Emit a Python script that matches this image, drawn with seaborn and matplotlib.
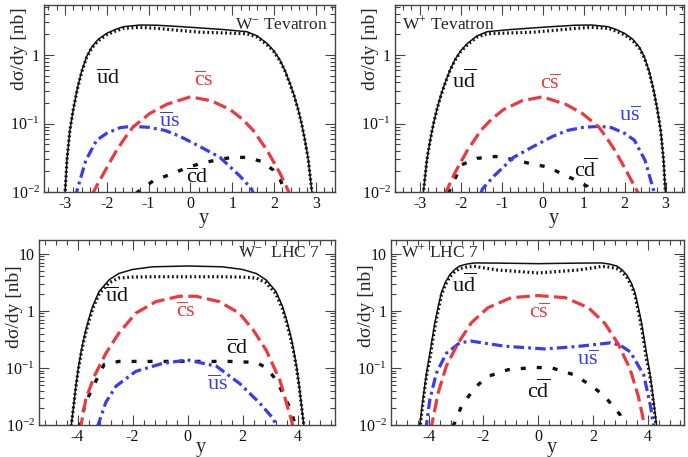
import numpy as np
import pandas as pd
import matplotlib
matplotlib.use("Agg")
import matplotlib.pyplot as plt
from matplotlib.ticker import LogLocator, FuncFormatter, MultipleLocator, NullFormatter
import seaborn as sns

sns.set_theme(style="ticks")
plt.rcParams["font.family"] = ["Liberation Serif", "DejaVu Serif"]
plt.rcParams["mathtext.fontset"] = "custom"
plt.rcParams["mathtext.rm"] = "Liberation Serif"
plt.rcParams["mathtext.it"] = "Liberation Serif:italic"
plt.rcParams["mathtext.bf"] = "Liberation Serif:bold"
plt.rcParams["axes.unicode_minus"] = False

# ---------------- W- at the Tevatron ----------------
tm_tot_x = [-3.0, -2.95, -2.88, -2.8, -2.7, -2.6, -2.48, -2.36, -2.2, -2.0, -1.8, -1.6, -1.2, -0.8,
            -0.25, 0.25, 0.8, 1.35, 1.6, 1.83, 2.0, 2.14, 2.26, 2.38, 2.48, 2.58, 2.66, 2.74, 2.82, 2.9, 2.93]
tm_tot = [0.009, 0.03, 0.08, 0.16, 0.33, 0.58, 0.95, 1.3, 1.7, 2.07, 2.35, 2.59, 2.74, 2.72,
          2.6, 2.48, 2.35, 2.19, 1.9, 1.48, 1.15, 0.85, 0.6, 0.39, 0.26, 0.16, 0.1, 0.058, 0.03, 0.011, 0.008]
tm_ud = [0.009, 0.03, 0.08, 0.16, 0.32, 0.56, 0.92, 1.26, 1.62, 1.97, 2.22, 2.45, 2.53, 2.45,
         2.28, 2.15, 2.1, 2.04, 1.82, 1.42, 1.11, 0.83, 0.59, 0.38, 0.255, 0.158, 0.1, 0.057, 0.03, 0.011, 0.008]
tm_cs_x = [-2.36, -2.16, -1.96, -1.76, -1.56, -1.37, -0.97, -0.57, 0.0, 0.5, 0.95, 1.25, 1.5, 1.83, 2.14, 2.34, 2.38]
tm_cs = [0.009, 0.015, 0.025, 0.041, 0.062, 0.089, 0.14, 0.19, 0.245, 0.215, 0.16, 0.115, 0.08, 0.041, 0.019, 0.0105, 0.009]
tm_us_x = [-2.75, -2.72, -2.5, -2.24, -2.0, -1.68, -1.4, -1.0, -0.6, -0.25, 0.23, 0.71, 1.19, 1.47, 1.5]
tm_us = [0.008, 0.01, 0.029, 0.057, 0.072, 0.087, 0.091, 0.088, 0.079, 0.065, 0.046, 0.032, 0.017, 0.011, 0.0095]
tm_cd_x = [-1.3, -1.2, -0.89, -0.49, -0.13, 0.23, 0.59, 0.99, 1.35, 1.7, 1.98, 2.15, 2.3]
tm_cd = [0.0095, 0.0107, 0.0145, 0.018, 0.022, 0.026, 0.029, 0.032, 0.032, 0.028, 0.021, 0.015, 0.0095]

# ---------------- W+ at the Tevatron ----------------
tp_tot_x = [-2.93, -2.9, -2.82, -2.74, -2.66, -2.58, -2.48, -2.38, -2.26, -2.14, -2.0, -1.83, -1.6, -1.35,
            -0.8, -0.25, 0.25, 0.8, 1.2, 1.6, 1.8, 2.0, 2.2, 2.36, 2.48, 2.6, 2.7, 2.8, 2.88, 2.95, 3.0]
tp_tot = [0.008, 0.011, 0.03, 0.058, 0.1, 0.16, 0.26, 0.39, 0.6, 0.85, 1.15, 1.48, 1.9, 2.19,
          2.35, 2.48, 2.6, 2.72, 2.74, 2.59, 2.35, 2.07, 1.7, 1.3, 0.95, 0.58, 0.33, 0.16, 0.08, 0.03, 0.009]
tp_ud = [0.008, 0.011, 0.03, 0.057, 0.1, 0.158, 0.255, 0.38, 0.59, 0.83, 1.11, 1.42, 1.82, 2.04,
         2.1, 2.15, 2.28, 2.45, 2.53, 2.45, 2.22, 1.97, 1.62, 1.26, 0.92, 0.56, 0.32, 0.16, 0.08, 0.03, 0.009]
tp_cs_x = [-2.38, -2.34, -2.14, -1.83, -1.5, -1.25, -0.95, -0.5, 0.0, 0.57, 0.97, 1.37, 1.56, 1.76, 1.96, 2.16, 2.36]
tp_cs = [0.009, 0.0105, 0.019, 0.041, 0.08, 0.115, 0.16, 0.215, 0.245, 0.19, 0.14, 0.089, 0.062, 0.041, 0.025, 0.015, 0.009]
tp_us_x = [-1.5, -1.47, -1.19, -0.71, -0.23, 0.25, 0.6, 1.0, 1.4, 1.68, 2.0, 2.24, 2.5, 2.72, 2.75]
tp_us = [0.0095, 0.011, 0.017, 0.032, 0.046, 0.065, 0.079, 0.088, 0.091, 0.087, 0.072, 0.057, 0.029, 0.01, 0.008]
tp_cd_x = [-2.3, -2.15, -1.97, -1.6, -1.15, -0.74, -0.3, 0.15, 0.5, 0.8, 1.1, 1.25]
tp_cd = [0.0095, 0.015, 0.025, 0.031, 0.033, 0.03, 0.026, 0.023, 0.018, 0.015, 0.012, 0.0095]

# ---------------- W- at the LHC, 7 TeV ----------------
lm_tot_x = [-4.25, -4.15, -4.06, -3.97, -3.88, -3.79, -3.7, -3.58, -3.45, -3.21, -2.85, -2.5, -2.0, -1.27,
            0.0, 1.27, 2.0, 2.5, 2.85, 3.21, 3.45, 3.58, 3.7, 3.79, 3.88, 3.97, 4.06, 4.15, 4.25]
lm_tot = [0.008, 0.02, 0.048, 0.1, 0.18, 0.3, 0.46, 0.75, 1.2, 2.2, 3.5, 4.5, 5.3, 5.9,
          6.1, 5.9, 5.3, 4.5, 3.5, 2.2, 1.2, 0.75, 0.46, 0.3, 0.18, 0.1, 0.048, 0.02, 0.008]
lm_ud = [0.008, 0.02, 0.046, 0.093, 0.165, 0.27, 0.41, 0.67, 1.08, 2.0, 3.1, 3.75, 3.9, 3.95,
         3.95, 3.95, 3.9, 3.75, 3.1, 2.0, 1.08, 0.67, 0.41, 0.27, 0.165, 0.093, 0.046, 0.02, 0.008]
lm_cs_x = [-3.92, -3.88, -3.7, -3.4, -2.97, -2.49, -1.88, -1.15, -0.3, 0.3, 1.15, 1.88, 2.39, 2.87, 3.36, 3.78, 3.84]
lm_cs = [0.008, 0.0095, 0.028, 0.07, 0.18, 0.41, 0.91, 1.45, 1.8, 1.8, 1.45, 0.91, 0.46, 0.2, 0.06, 0.012, 0.009]
lm_cd_x = [-3.95, -3.7, -3.27, -3.03, -2.5, -1.5, 0.0, 1.5, 2.5, 2.87, 3.24, 3.72, 3.95]
lm_cd = [0.009, 0.025, 0.068, 0.115, 0.13, 0.13, 0.13, 0.13, 0.125, 0.1, 0.06, 0.02, 0.009]
lm_us_x = [-3.3, -3.27, -2.97, -2.6, -1.88, -0.91, 0.0, 1.05, 1.9, 2.63, 3.11, 3.22]
lm_us = [0.0093, 0.0095, 0.025, 0.048, 0.087, 0.12, 0.138, 0.107, 0.053, 0.024, 0.013, 0.0098]

# ---------------- W+ at the LHC, 7 TeV ----------------
lp_tot_x = [-4.38, -4.33, -4.24, -4.15, -4.06, -3.96, -3.87, -3.78, -3.66, -3.54, -3.4, -3.23, -3.05, -2.87,
            -2.6, -2.32, -1.5, 0.0, 1.5, 2.32, 2.6, 2.87, 3.05, 3.23, 3.4, 3.54, 3.66, 3.78, 3.87, 3.96,
            4.06, 4.15, 4.24, 4.33, 4.38]
lp_tot = [0.007, 0.0095, 0.022, 0.048, 0.095, 0.18, 0.33, 0.61, 1.15, 2.07, 3.1, 4.3, 5.3, 6.1,
          6.6, 6.9, 6.85, 6.7, 6.85, 6.9, 6.6, 6.1, 5.3, 4.3, 3.1, 2.07, 1.15, 0.61, 0.33, 0.18,
          0.095, 0.048, 0.022, 0.0095, 0.007]
lp_ud = [0.006, 0.008, 0.019, 0.042, 0.085, 0.14, 0.27, 0.5, 0.98, 1.87, 2.8, 3.94, 4.85, 5.5,
         5.85, 6.0, 5.2, 4.6, 5.2, 6.0, 5.85, 5.5, 4.85, 3.94, 2.8, 1.87, 0.98, 0.5, 0.27, 0.14,
         0.085, 0.042, 0.019, 0.008, 0.006]
lp_cs_x = [-3.95, -3.9, -3.66, -3.36, -2.93, -2.44, -1.84, -0.99, 0.0, 0.99, 1.84, 2.44, 2.93, 3.36, 3.66, 3.85, 3.9]
lp_cs = [0.008, 0.0095, 0.036, 0.107, 0.27, 0.62, 1.13, 1.7, 1.85, 1.7, 1.13, 0.6, 0.26, 0.095, 0.032, 0.012, 0.0095]
lp_us_x = [-4.12, -4.09, -3.96, -3.72, -3.36, -2.87, -2.45, -1.23, 0.23, 1.42, 2.64, 3.0, 3.37, 3.86, 4.1, 4.2, 4.22]
lp_us = [0.008, 0.0095, 0.028, 0.081, 0.18, 0.275, 0.295, 0.24, 0.215, 0.237, 0.275, 0.25, 0.19, 0.075, 0.022, 0.011, 0.0095]
lp_cd_x = [-3.12, -3.05, -2.81, -2.32, -1.84, -1.1, -0.13, 0.5, 1.3, 1.91, 2.4, 2.75, 3.0, 3.15]
lp_cd = [0.0095, 0.011, 0.021, 0.045, 0.071, 0.093, 0.102, 0.1, 0.076, 0.05, 0.033, 0.021, 0.015, 0.0095]

RED = "#ea3a3f"
BLUE = "#3a3aee"
BLACK = "#111111"
FRAME = "#444444"

STYLES = {
    "tot": dict(color=BLACK, lw=1.1, linestyle="-"),
    "ud": dict(color=BLACK, lw=2.3, linestyle=(0, (0.55, 0.85))),
    "cs": dict(color=RED, lw=2.3, linestyle=(0, (4.2, 1.7))),
    "us": dict(color=BLUE, lw=2.3, linestyle=(0, (3.3, 1.3, 0.9, 1.3))),
    "cd": dict(color=BLACK, lw=2.4, linestyle=(0, (1.5, 3.3))),
}


def draw(ax, x, v, key):
    df = pd.DataFrame({"y": x, "dsdy": v})
    sns.lineplot(data=df, x="y", y="dsdy", ax=ax, sort=False, estimator=None,
                 legend=False, **STYLES[key])


def ylab(val, pos):
    return {0.01: "$10^{-2}$", 0.1: "$10^{-1}$", 1.0: "1", 10.0: "10"}.get(round(val, 6), "")


def style_axes(ax, xlim, ylim, major, minor, label_top, xlab_y):
    ax.set_yscale("log")
    ax.set_xlim(*xlim)
    ax.set_ylim(*ylim)
    ax.xaxis.set_major_locator(MultipleLocator(major))
    ax.xaxis.set_minor_locator(MultipleLocator(minor))
    ax.yaxis.set_major_locator(LogLocator(base=10))
    ax.yaxis.set_minor_locator(LogLocator(base=10, subs=np.arange(2, 10)))
    ax.yaxis.set_major_formatter(FuncFormatter(ylab))
    ax.yaxis.set_minor_formatter(NullFormatter())
    ax.tick_params(which="both", direction="in", top=True, right=True, colors=FRAME,
                   labelcolor=BLACK, labelsize=11.5, width=0.8)
    ax.tick_params(which="major", length=7)
    ax.tick_params(which="minor", length=3.5)
    ax.tick_params(axis="x", pad=3)
    ax.tick_params(axis="y", pad=3)
    for s in ax.spines.values():
        s.set_color(FRAME)
        s.set_linewidth(1.0)
    ax.set_xlabel("y", fontsize=14.5)
    ax.xaxis.label.set_va("baseline")
    ax.xaxis.set_label_coords(0.548, xlab_y)
    ax.set_ylabel("d\u03c3/dy [nb]", fontsize=14, loc="top")
    ax.yaxis.set_label_coords(-0.055, label_top)


fig = plt.figure(figsize=(6.88, 4.57), dpi=100)
W, H = 688.0, 457.0
ax1 = fig.add_axes([44 / W, (H - 192) / H, 291 / W, 187 / H])
ax2 = fig.add_axes([395 / W, (H - 192) / H, 289 / W, 187 / H])
ax3 = fig.add_axes([39 / W, (H - 425) / H, 296 / W, 185 / H])
ax4 = fig.add_axes([391 / W, (H - 425) / H, 293 / W, 185 / H])

panels = [
    (ax1, (tm_tot_x, tm_tot, tm_ud), (tm_cs_x, tm_cs), (tm_us_x, tm_us), (tm_cd_x, tm_cd)),
    (ax2, (tp_tot_x, tp_tot, tp_ud), (tp_cs_x, tp_cs), (tp_us_x, tp_us), (tp_cd_x, tp_cd)),
    (ax3, (lm_tot_x, lm_tot, lm_ud), (lm_cs_x, lm_cs), (lm_us_x, lm_us), (lm_cd_x, lm_cd)),
    (ax4, (lp_tot_x, lp_tot, lp_ud), (lp_cs_x, lp_cs), (lp_us_x, lp_us), (lp_cd_x, lp_cd)),
]
for ax, (tx, tv, uv), cs, us, cd in panels:
    draw(ax, cd[0], cd[1], "cd")
    draw(ax, us[0], us[1], "us")
    draw(ax, cs[0], cs[1], "cs")
    draw(ax, tx, uv, "ud")
    draw(ax, tx, tv, "tot")

style_axes(ax1, (-3.5, 3.46), (0.01, 5.37), 1, 0.2, 0.99, -0.165)
style_axes(ax2, (-3.6, 3.45), (0.01, 5.37), 1, 0.2, 0.99, -0.165)
style_axes(ax3, (-5.4, 5.36), (0.01, 17.4), 2, 0.4, 0.865, -0.145)
style_axes(ax4, (-5.38, 5.33), (0.01, 17.4), 2, 0.4, 0.87, -0.145)

LFS = 16
TFS = 12.5
# W- Tevatron
ax1.text(3.29, 2.75, "W$^{-}$ Tevatron", ha="right", va="center", fontsize=TFS)
ax1.text(-1.98, 0.45, r"$\overline{\mathrm{u}}\mathrm{d}$", ha="center", va="center", fontsize=LFS, color=BLACK)
ax1.text(0.33, 0.41, r"$\overline{\mathrm{c}}\mathrm{s}$", ha="center", va="center", fontsize=LFS, color=RED)
ax1.text(-0.49, 0.106, r"$\overline{\mathrm{u}}\mathrm{s}$", ha="center", va="center", fontsize=LFS, color=BLUE)
ax1.text(0.17, 0.0158, r"$\overline{\mathrm{c}}\mathrm{d}$", ha="center", va="center", fontsize=LFS, color=BLACK)
# W+ Tevatron
ax2.text(-3.42, 2.8, "W$^{+}$ Tevatron", ha="left", va="center", fontsize=TFS)
ax2.text(-1.92, 0.41, r"$\mathrm{u}\overline{\mathrm{d}}$", ha="center", va="center", fontsize=LFS, color=BLACK)
ax2.text(0.18, 0.38, r"$\mathrm{c}\overline{\mathrm{s}}$", ha="center", va="center", fontsize=LFS, color=RED)
ax2.text(2.13, 0.129, r"$\mathrm{u}\overline{\mathrm{s}}$", ha="center", va="center", fontsize=LFS, color=BLUE)
ax2.text(1.05, 0.021, r"$\mathrm{c}\overline{\mathrm{d}}$", ha="center", va="center", fontsize=LFS, color=BLACK)
# W- LHC 7
ax3.text(4.82, 10.3, "W$^{-}$  LHC 7", ha="right", va="center", fontsize=TFS)
ax3.text(-2.55, 1.72, r"$\overline{\mathrm{u}}\mathrm{d}$", ha="center", va="center", fontsize=LFS, color=BLACK)
ax3.text(-0.07, 0.94, r"$\overline{\mathrm{c}}\mathrm{s}$", ha="center", va="center", fontsize=LFS, color=RED)
ax3.text(1.81, 0.215, r"$\overline{\mathrm{c}}\mathrm{d}$", ha="center", va="center", fontsize=LFS, color=BLACK)
ax3.text(1.08, 0.05, r"$\overline{\mathrm{u}}\mathrm{s}$", ha="center", va="center", fontsize=LFS, color=BLUE)
# W+ LHC 7
ax4.text(-5.02, 10.6, "W$^{+}$ LHC 7", ha="left", va="center", fontsize=TFS)
ax4.text(-2.71, 2.77, r"$\mathrm{u}\overline{\mathrm{d}}$", ha="center", va="center", fontsize=LFS, color=BLACK)
ax4.text(0.05, 0.91, r"$\mathrm{c}\overline{\mathrm{s}}$", ha="center", va="center", fontsize=LFS, color=RED)
ax4.text(1.82, 0.135, r"$\mathrm{u}\overline{\mathrm{s}}$", ha="center", va="center", fontsize=LFS, color=BLUE)
ax4.text(0.0, 0.039, r"$\mathrm{c}\overline{\mathrm{d}}$", ha="center", va="center", fontsize=LFS, color=BLACK)

fig.savefig("out.png", dpi=100, facecolor="white")
